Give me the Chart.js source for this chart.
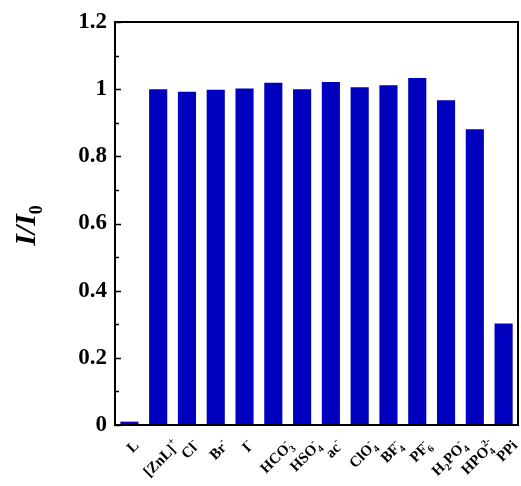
<!DOCTYPE html>
<html>
<head>
<meta charset="utf-8">
<script src="https://cdn.jsdelivr.net/npm/chart.js@4"></script>
<style>
  html, body { margin: 0; padding: 0; background: #fff; }
  #wrap { width: 521px; height: 486px; }
</style>
</head>
<body>
<div id="wrap"><canvas id="myChart" width="521" height="486"></canvas></div>
<script>
'use strict';

let ions = ['L', '[ZnL]+', 'Cl-', 'Br-', 'I-', 'HCO3-', 'HSO4-', 'ac-',
  'ClO4-', 'BF4-', 'PF6-', 'H2PO4-', 'HPO42-', 'PPi'];
let ratio = [0.01, 1.000, 0.992, 0.998, 1.002, 1.019, 1.000, 1.021, 1.006, 1.012, 1.033, 0.967, 0.881, 0.302];
let yTicks = [0, 0.2, 0.4, 0.6, 0.8, 1, 1.2];

// how each ion label is typeset: plain text, subscript, superscript
let ionText = [
  [{ t: 'L' }],
  [{ t: '[ZnL]' }, { sup: '+' }],
  [{ t: 'Cl' }, { sup: '-' }],
  [{ t: 'Br' }, { sup: '-' }],
  [{ t: 'I' }, { sup: '-' }],
  [{ t: 'HCO' }, { sub: '3', sup: '-' }],
  [{ t: 'HSO' }, { sub: '4', sup: '-' }],
  [{ t: 'ac' }, { sup: '-' }],
  [{ t: 'ClO' }, { sub: '4', sup: '-' }],
  [{ t: 'BF' }, { sub: '4', sup: '-' }],
  [{ t: 'PF' }, { sub: '6', sup: '-' }],
  [{ t: 'H' }, { sub: '2' }, { t: 'PO' }, { sub: '4', sup: '-' }],
  [{ t: 'HPO' }, { sub: '4', sup: '2-' }],
  [{ t: 'PPi' }]
];

let serif = "'Liberation Serif', 'Times New Roman', serif";
let bigFont = 'bold 15px ' + serif;
let smallFont = 'bold 10px ' + serif;

function partWidth(ctx, p) {
  if (p.t) { ctx.font = bigFont; return ctx.measureText(p.t).width; }
  ctx.font = smallFont;
  return Math.max(p.sub ? ctx.measureText(p.sub).width : 0, p.sup ? ctx.measureText(p.sup).width : 0);
}

// frame, inward ticks, typeset labels and y title
let framePlugin = {
  id: 'frame',
  afterDraw(chart) {
    let ctx = chart.ctx;
    let a = chart.chartArea;
    let x = chart.scales.x;
    let y = chart.scales.y;
    ctx.save();
    ctx.strokeStyle = '#000';
    ctx.lineWidth = 2;
    ctx.strokeRect(a.left, a.top, a.right - a.left, a.bottom - a.top);
    ctx.lineWidth = 1.5;
    for (let v = 0; v <= 1.2001; v += 0.1) {
      let p = Math.round(y.getPixelForValue(v)) + 0.5;
      let major = Math.round(v * 10) % 2 === 0;
      ctx.beginPath();
      ctx.moveTo(a.left, p);
      ctx.lineTo(a.left + (major ? 6 : 4), p);
      ctx.stroke();
    }
    ctx.restore();

    // x labels, rotated 45 degrees
    ctx.save();
    ctx.fillStyle = '#000';
    ctx.textBaseline = 'alphabetic';
    for (let i = 0; i < ionText.length; i++) {
      let parts = ionText[i];
      let len = 0;
      parts.forEach(p => { len += partWidth(ctx, p); });
      let h = 11;
      let diag = (len + h) / Math.SQRT2;
      let cx = x.getPixelForTick(i) + 3;
      let cy = a.bottom + 14 + diag / 2;
      ctx.save();
      ctx.translate(cx, cy);
      ctx.rotate(-Math.PI / 4);
      let px = -len / 2;
      let base = 5;
      parts.forEach(p => {
        let w = partWidth(ctx, p);
        if (p.t) {
          ctx.font = bigFont;
          ctx.fillText(p.t, px, base);
        } else {
          ctx.font = smallFont;
          if (p.sub) ctx.fillText(p.sub, px, base + 4);
          if (p.sup) ctx.fillText(p.sup, px, base - 7);
        }
        px += w;
      });
      ctx.restore();
    }
    ctx.restore();

    // y title I/I0 with real subscript
    ctx.save();
    let cyT = (a.top + a.bottom) / 2 + 2;
    ctx.translate(35, cyT);
    ctx.rotate(-Math.PI / 2);
    ctx.fillStyle = '#000';
    ctx.textBaseline = 'alphabetic';
    ctx.font = 'italic bold 30px ' + serif;
    let main = 'I/I';
    let w = ctx.measureText(main).width;
    ctx.font = 'bold 18px ' + serif;
    let w0 = ctx.measureText('0').width;
    let x0 = -(w + w0) / 2;
    ctx.font = 'italic bold 30px ' + serif;
    ctx.fillText(main, x0, 0);
    ctx.font = 'bold 18px ' + serif;
    ctx.fillText('0', x0 + w, 7);
    ctx.restore();
  }
};

let ctx = document.getElementById('myChart').getContext('2d');
let myChart = new Chart(ctx, {
  type: 'bar',
  data: {
    labels: ions,
    datasets: [{
      data: ratio,
      backgroundColor: '#0000bf',
      borderWidth: 0,
      categoryPercentage: 1,
      barPercentage: 0.63
    }]
  },
  options: {
    responsive: false,
    animation: false,
    layout: { padding: { top: 22, right: 3, left: 0, bottom: 0 } },
    plugins: { legend: { display: false }, tooltip: { enabled: false } },
    scales: {
      x: {
        grid: { display: false, drawTicks: false },
        border: { display: false },
        ticks: { display: false },
        afterFit(s) { s.height = 61; }
      },
      y: {
        min: 0, max: 1.2,
        grid: { display: false, drawTicks: false },
        border: { display: false },
        afterBuildTicks(s) { s.ticks = yTicks.map(v => ({ value: v })); },
        ticks: {
          padding: 8,
          color: '#000',
          font: { family: serif, size: 23, weight: 'bold' },
          callback: v => String(Math.round(v * 10) / 10)
        },
        afterFit(s) { s.width = 115; }
      }
    }
  },
  plugins: [framePlugin]
});
</script>
</body>
</html>
